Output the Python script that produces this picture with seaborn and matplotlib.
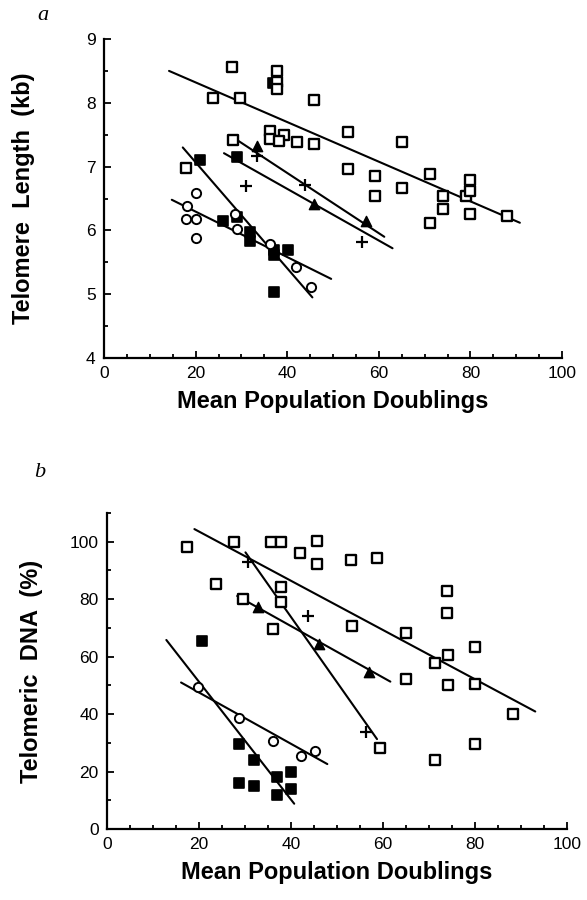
import matplotlib
matplotlib.use("Agg")
import matplotlib.pyplot as plt
import matplotlib.ticker as mticker
import pandas as pd
import seaborn as sns

# ---- panel a: telomere length (kb) vs mean population doublings ----
A_SQ_X = [28.0, 23.8, 29.7, 37.8, 37.8, 37.8, 45.8, 53.3, 65.1, 28.2, 36.2, 36.2, 39.2, 38.3, 42.1,
          45.8, 17.9, 53.3, 59.2, 59.2, 65.1, 71.1, 71.1, 74.0, 74.0, 79.1, 80.0, 80.0, 80.0, 87.9]
A_SQ_Y = [8.56, 8.08, 8.07, 8.50, 8.32, 8.21, 8.05, 7.54, 7.38, 7.41, 7.56, 7.44, 7.50, 7.40, 7.38,
          7.35, 6.98, 6.96, 6.85, 6.54, 6.67, 6.88, 6.12, 6.54, 6.33, 6.54, 6.79, 6.61, 6.25, 6.22]
A_CIRC_X = [18.1, 20.1, 17.9, 20.1, 20.1, 28.5, 29.1, 36.3, 42.0, 45.1]
A_CIRC_Y = [6.39, 6.58, 6.18, 6.18, 5.88, 6.26, 6.02, 5.79, 5.43, 5.11]
A_FSQ_X = [20.9, 29.0, 26.0, 29.1, 31.9, 31.9, 37.2, 37.2, 40.1, 37.2, 36.8]
A_FSQ_Y = [7.11, 7.15, 6.14, 6.21, 5.98, 5.84, 5.69, 5.61, 5.69, 5.03, 8.31]
A_TRI_X = [33.4, 45.8, 57.3]
A_TRI_Y = [7.33, 6.42, 6.15]
A_PLUS_X = [33.4, 31.0, 43.8, 56.3]
A_PLUS_Y = [7.17, 6.69, 6.71, 5.82]

# fitted lines (end points)
A_LINES = {
    "sq":   ([14.2, 90.8], [8.50, 6.12]),
    "circ": ([14.8, 49.6], [6.48, 5.24]),
    "fsq":  ([17.2, 45.5], [7.30, 4.95]),
    "tri":  ([29.2, 61.2], [7.41, 5.90]),
    "plus": ([26.2, 63.0], [7.21, 5.72]),
}

# ---- panel b: telomeric DNA (%) vs mean population doublings ----
B_SQ_X = [17.4, 27.7, 35.6, 37.8, 41.9, 45.6, 45.6, 53.0, 58.8, 23.6, 37.8, 29.6, 37.8, 36.1,
          53.2, 65.0, 65.0, 73.9, 73.9, 74.1, 74.2, 71.2, 71.2, 80.1, 80.1, 80.1, 88.2, 59.3]
B_SQ_Y = [98.3, 100.0, 100.0, 100.0, 96.2, 100.2, 92.2, 93.6, 94.2, 85.3, 84.1, 80.1, 78.9, 69.5,
          70.8, 68.4, 52.3, 83.0, 75.1, 60.4, 50.2, 57.7, 24.1, 63.2, 50.4, 29.5, 40.1, 28.2]
B_CIRC_X = [19.8, 28.7, 36.1, 42.1, 45.2]
B_CIRC_Y = [49.6, 38.6, 30.8, 25.5, 27.0]
B_FSQ_X = [20.6, 28.8, 32.0, 28.8, 32.0, 37.0, 37.0, 40.1, 40.1]
B_FSQ_Y = [65.5, 29.5, 24.1, 16.0, 14.8, 18.0, 11.9, 20.0, 14.0]
B_TRI_X = [32.8, 46.1, 57.0]
B_TRI_Y = [77.4, 64.4, 54.8]
B_PLUS_X = [30.6, 43.7, 56.3]
B_PLUS_Y = [93.0, 74.3, 33.7]

B_LINES = {
    "sq":   ([19.0, 93.1], [104.4, 40.9]),
    "circ": ([16.1, 47.9], [51.0, 22.6]),
    "fsq":  ([12.9, 40.7], [65.8, 8.8]),
    "tri":  ([28.3, 61.6], [81.1, 51.3]),
    "plus": ([30.1, 58.7], [96.3, 31.3]),
}

MARKERS = {
    "fsq":  dict(marker="s", facecolor="black", edgecolor="black", s=48, linewidth=1.2),
    "sq":   dict(marker="s", facecolor="white", edgecolor="black", s=52, linewidth=1.7),
    "circ": dict(marker="o", facecolor="white", edgecolor="black", s=44, linewidth=1.4),
    "tri":  dict(marker="^", facecolor="black", edgecolor="black", s=55, linewidth=1.0),
    "plus": dict(marker="+", color="black", s=70, linewidth=1.6),
}

sns.set_theme(style="ticks")
plt.rcParams["font.family"] = ["Liberation Sans", "DejaVu Sans"]
plt.rcParams["text.color"] = "black"
plt.rcParams["axes.labelcolor"] = "black"
plt.rcParams["xtick.color"] = "black"
plt.rcParams["ytick.color"] = "black"


def points_frame(groups):
    rows = []
    for name, (xs, ys) in groups.items():
        rows.append(pd.DataFrame({"x": xs, "y": ys, "series": name}))
    return pd.concat(rows, ignore_index=True)


def draw_panel(ax, df, lines, ylim, ymajor, yminor):
    for name, (lx, ly) in lines.items():
        sns.lineplot(x=lx, y=ly, color="black", linewidth=1.5, sort=False, ax=ax, zorder=2)
    for name in ["fsq", "sq", "circ", "tri", "plus"]:
        sub = df[df.series == name]
        sns.scatterplot(data=sub, x="x", y="y", ax=ax, zorder=3, legend=False, **MARKERS[name])

    ax.set_xlim(0, 100)
    ax.set_ylim(*ylim)
    ax.xaxis.set_major_locator(mticker.MultipleLocator(20))
    ax.xaxis.set_minor_locator(mticker.MultipleLocator(5))
    ax.yaxis.set_major_locator(mticker.MultipleLocator(ymajor))
    ax.yaxis.set_minor_locator(mticker.MultipleLocator(yminor))
    ax.tick_params(which="both", direction="in", width=1.3, colors="black",
                   labelcolor="black", labelsize=12.5)
    ax.tick_params(which="major", length=5, pad=6)
    ax.tick_params(which="minor", length=3)
    sns.despine(ax=ax)
    for sp in ["left", "bottom"]:
        ax.spines[sp].set_linewidth(1.6)
        ax.spines[sp].set_color("black")
    ax.set_xlabel("Mean Population Doublings", fontsize=17, fontweight="bold", color="black")
    ax.xaxis.set_label_coords(0.5, -0.10)


fig = plt.figure(figsize=(5.87, 9.0), dpi=100)
ax_a = fig.add_axes([104 / 587, 1 - 358 / 900, 458 / 587, 319 / 900])
ax_b = fig.add_axes([107 / 587, 1 - 829 / 900, 460 / 587, 316 / 900])

df_a = points_frame({"sq": (A_SQ_X, A_SQ_Y), "circ": (A_CIRC_X, A_CIRC_Y), "fsq": (A_FSQ_X, A_FSQ_Y),
                     "tri": (A_TRI_X, A_TRI_Y), "plus": (A_PLUS_X, A_PLUS_Y)})
df_b = points_frame({"sq": (B_SQ_X, B_SQ_Y), "circ": (B_CIRC_X, B_CIRC_Y), "fsq": (B_FSQ_X, B_FSQ_Y),
                     "tri": (B_TRI_X, B_TRI_Y), "plus": (B_PLUS_X, B_PLUS_Y)})

draw_panel(ax_a, df_a, A_LINES, (4, 9), 1, 0.5)
draw_panel(ax_b, df_b, B_LINES, (0, 110), 20, 10)
ax_b.set_yticks([0, 20, 40, 60, 80, 100])

ax_a.set_ylabel("Telomere  Length  (kb)", fontsize=17, fontweight="bold", color="black")
ax_a.yaxis.set_label_coords(-0.15, 0.5)
ax_b.set_ylabel("Telomeric  DNA  (%)", fontsize=17, fontweight="bold", color="black")
ax_b.yaxis.set_label_coords(-0.14, 0.5)

fig.text(43 / 587, 1 - 16 / 900, "a", fontsize=16, style="italic", family="Liberation Serif",
         ha="center", va="center")
fig.text(40 / 587, 1 - 472 / 900, "b", fontsize=16, style="italic", family="Liberation Serif",
         ha="center", va="center")

fig.savefig("out.png", dpi=100, facecolor="white")
plt.close(fig)
